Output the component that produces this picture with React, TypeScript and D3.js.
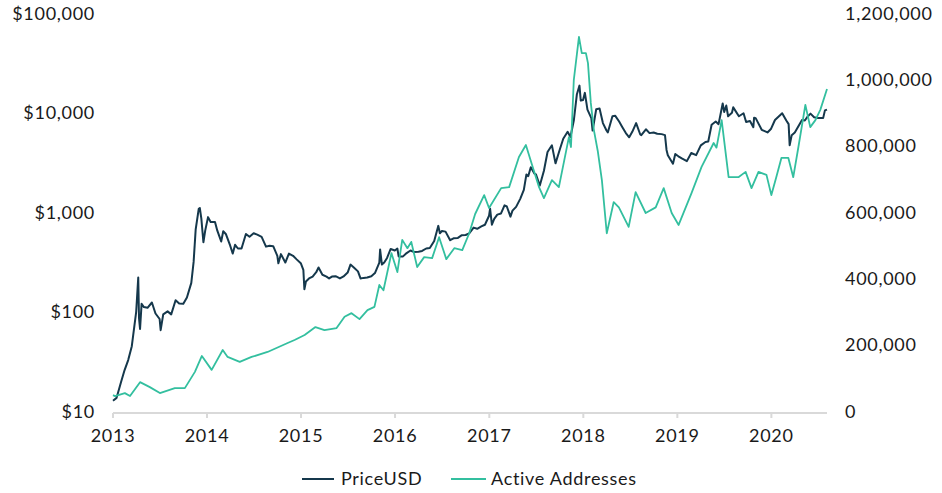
import { scaleLinear, scaleLog, scaleTime, line, timeParse } from 'd3';

const yearTicks = [2013, 2014, 2015, 2016, 2017, 2018, 2019, 2020];
const priceTicks = [10, 100, 1000, 10000, 100000];
const activeTicks = [0, 200000, 400000, 600000, 800000, 1000000, 1200000];

// BTC price, USD
const priceSeries: [string, number][] = [
  ['2013-01-01', 13.3], ['2013-01-15', 14.2], ['2013-02-01', 20.4], ['2013-02-15', 27],
  ['2013-03-01', 34], ['2013-03-15', 47], ['2013-04-01', 104], ['2013-04-09', 230],
  ['2013-04-12', 90], ['2013-04-16', 70], ['2013-04-22', 125], ['2013-05-01', 116],
  ['2013-05-15', 114], ['2013-06-01', 129], ['2013-06-15', 100], ['2013-07-01', 88],
  ['2013-07-05', 68], ['2013-07-15', 98], ['2013-08-01', 105], ['2013-08-15', 98],
  ['2013-09-01', 136], ['2013-09-15', 126], ['2013-10-01', 125], ['2013-10-15', 145],
  ['2013-11-01', 203], ['2013-11-10', 330], ['2013-11-18', 700], ['2013-11-30', 1130],
  ['2013-12-04', 1150], ['2013-12-10', 900], ['2013-12-18', 520], ['2013-12-25', 680],
  ['2014-01-05', 930], ['2014-01-15', 830], ['2014-02-01', 830], ['2014-02-10', 680],
  ['2014-02-25', 530], ['2014-03-05', 670], ['2014-03-15', 630], ['2014-04-01', 480],
  ['2014-04-11', 400], ['2014-04-20', 490], ['2014-05-01', 450], ['2014-05-15', 450],
  ['2014-06-01', 630], ['2014-06-15', 590], ['2014-07-01', 640], ['2014-07-15', 620],
  ['2014-08-01', 590], ['2014-08-18', 470], ['2014-09-01', 480], ['2014-09-15', 475],
  ['2014-10-01', 380], ['2014-10-05', 320], ['2014-10-15', 395], ['2014-11-01', 325],
  ['2014-11-15', 400], ['2014-12-01', 380], ['2014-12-15', 350], ['2014-12-31', 320],
  ['2015-01-10', 275], ['2015-01-14', 175], ['2015-01-20', 210], ['2015-02-01', 225],
  ['2015-02-15', 235], ['2015-03-01', 260], ['2015-03-10', 290], ['2015-03-25', 245],
  ['2015-04-10', 235], ['2015-04-20', 225], ['2015-05-01', 235], ['2015-05-15', 237],
  ['2015-06-01', 225], ['2015-06-15', 236], ['2015-07-01', 258], ['2015-07-12', 310],
  ['2015-07-25', 290], ['2015-08-10', 265], ['2015-08-20', 225], ['2015-09-01', 228],
  ['2015-09-15', 230], ['2015-10-01', 237], ['2015-10-15', 255], ['2015-11-01', 325],
  ['2015-11-04', 440], ['2015-11-11', 310], ['2015-11-20', 325], ['2015-12-01', 362],
  ['2015-12-15', 445], ['2015-12-31', 430], ['2016-01-10', 450], ['2016-01-15', 375],
  ['2016-02-01', 375], ['2016-02-15', 405], ['2016-03-01', 430], ['2016-03-15', 415],
  ['2016-04-01', 417], ['2016-04-15', 425], ['2016-05-01', 450], ['2016-05-15', 455],
  ['2016-06-01', 535], ['2016-06-17', 760], ['2016-06-23', 640], ['2016-07-01', 675],
  ['2016-07-15', 665], ['2016-08-02', 545], ['2016-08-15', 570], ['2016-09-01', 575],
  ['2016-09-15', 610], ['2016-10-01', 615], ['2016-10-15', 640], ['2016-11-01', 730],
  ['2016-11-15', 710], ['2016-12-01', 750], ['2016-12-15', 780], ['2016-12-31', 960],
  ['2017-01-04', 1130], ['2017-01-11', 780], ['2017-01-20', 895], ['2017-02-01', 985],
  ['2017-02-15', 1010], ['2017-03-01', 1220], ['2017-03-10', 1190], ['2017-03-24', 940],
  ['2017-04-01', 1080], ['2017-04-15', 1180], ['2017-05-01', 1420], ['2017-05-15', 1750],
  ['2017-05-25', 2500], ['2017-06-01', 2400], ['2017-06-11', 2950], ['2017-06-25', 2550],
  ['2017-07-01', 2500], ['2017-07-16', 1930], ['2017-08-01', 2720], ['2017-08-15', 4200],
  ['2017-09-01', 4900], ['2017-09-15', 3230], ['2017-10-01', 4400], ['2017-10-15', 5700],
  ['2017-11-01', 6700], ['2017-11-12', 5950], ['2017-11-25', 8700], ['2017-12-07', 16000],
  ['2017-12-17', 19500], ['2017-12-22', 13800], ['2017-12-31', 14000], ['2018-01-07', 16500],
  ['2018-01-17', 11200], ['2018-02-01', 9200], ['2018-02-06', 6900], ['2018-02-20', 11300],
  ['2018-03-05', 11500], ['2018-03-18', 8200], ['2018-04-01', 6900], ['2018-04-06', 6600],
  ['2018-04-24', 9600], ['2018-05-05', 9700], ['2018-05-20', 8500], ['2018-06-01', 7500],
  ['2018-06-15', 6500], ['2018-06-28', 5900], ['2018-07-10', 6700], ['2018-07-25', 8200],
  ['2018-08-10', 6300], ['2018-08-14', 6200], ['2018-09-01', 7100], ['2018-09-15', 6500],
  ['2018-10-01', 6600], ['2018-10-15', 6400], ['2018-11-01', 6350], ['2018-11-14', 6200],
  ['2018-11-20', 4400], ['2018-11-25', 3900], ['2018-12-15', 3200], ['2018-12-24', 4000],
  ['2019-01-05', 3800], ['2019-01-20', 3600], ['2019-02-07', 3400], ['2019-02-24', 4100],
  ['2019-03-15', 3900], ['2019-04-02', 4900], ['2019-04-20', 5300], ['2019-05-01', 5350],
  ['2019-05-14', 7900], ['2019-05-30', 8500], ['2019-06-10', 8000], ['2019-06-26', 12900],
  ['2019-07-02', 10600], ['2019-07-10', 12300], ['2019-07-17', 9600], ['2019-08-01', 10400],
  ['2019-08-06', 11800], ['2019-08-28', 9600], ['2019-09-15', 10300], ['2019-09-25', 8400],
  ['2019-10-10', 8600], ['2019-10-23', 7450], ['2019-10-26', 9300], ['2019-11-01', 9200],
  ['2019-11-25', 7000], ['2019-12-17', 6600], ['2019-12-31', 7200], ['2020-01-15', 8800],
  ['2020-02-12', 10300], ['2020-02-28', 8700], ['2020-03-08', 8000], ['2020-03-12', 4900],
  ['2020-03-20', 6200], ['2020-04-01', 6600], ['2020-04-29', 8800], ['2020-05-10', 8700],
  ['2020-05-20', 9500], ['2020-06-01', 10200], ['2020-06-15', 9400], ['2020-07-01', 9200],
  ['2020-07-20', 9200], ['2020-07-27', 11000], ['2020-08-04', 11200],
];

// active addresses (smoothed)
const activeSeries: [string, number][] = [
  ['2013-01-01', 54000], ['2013-01-09', 51000], ['2013-02-16', 60000], ['2013-03-08', 51000],
  ['2013-04-16', 93000], ['2013-05-24', 78000], ['2013-07-02', 60000], ['2013-08-29', 75000],
  ['2013-10-07', 75000], ['2013-11-15', 124000], ['2013-12-12', 172000], ['2014-01-19', 130000],
  ['2014-03-03', 190000], ['2014-03-22', 169000], ['2014-05-08', 154000], ['2014-06-23', 169000],
  ['2014-08-24', 184000], ['2014-11-10', 211000], ['2014-12-07', 220000], ['2015-01-15', 235000],
  ['2015-02-26', 259000], ['2015-04-02', 250000], ['2015-05-19', 256000], ['2015-06-19', 290000],
  ['2015-07-16', 301000], ['2015-08-16', 283000], ['2015-09-16', 310000], ['2015-10-13', 320000],
  ['2015-11-01', 386000], ['2015-11-17', 370000], ['2015-12-18', 482000], ['2016-01-10', 425000],
  ['2016-01-29', 522000], ['2016-02-18', 497000], ['2016-03-04', 516000], ['2016-03-27', 440000],
  ['2016-04-23', 470000], ['2016-05-24', 467000], ['2016-06-20', 530000], ['2016-07-18', 464000],
  ['2016-08-18', 497000], ['2016-09-18', 491000], ['2016-10-15', 542000], ['2016-11-07', 600000],
  ['2016-12-12', 657000], ['2016-12-31', 618000], ['2017-02-16', 678000], ['2017-03-19', 681000],
  ['2017-04-26', 772000], ['2017-05-23', 808000], ['2017-06-16', 748000], ['2017-07-13', 681000],
  ['2017-08-01', 648000], ['2017-09-01', 702000], ['2017-09-28', 681000], ['2017-11-06', 832000],
  ['2017-11-14', 802000], ['2017-11-25', 1004000], ['2017-12-15', 1134000], ['2017-12-26', 1085000],
  ['2018-01-11', 1085000], ['2018-01-19', 1055000], ['2018-01-30', 935000], ['2018-02-11', 853000],
  ['2018-02-26', 790000], ['2018-03-14', 702000], ['2018-04-02', 542000], ['2018-04-29', 636000],
  ['2018-05-19', 620000], ['2018-06-26', 561000], ['2018-07-23', 666000], ['2018-08-31', 603000],
  ['2018-10-09', 620000], ['2018-11-09', 678000], ['2018-12-10', 603000], ['2019-01-06', 567000],
  ['2019-02-25', 663000], ['2019-04-05', 742000], ['2019-05-22', 814000], ['2019-06-02', 800000],
  ['2019-06-22', 883000], ['2019-07-19', 711000], ['2019-08-26', 711000], ['2019-09-23', 727000],
  ['2019-10-16', 678000], ['2019-11-12', 727000], ['2019-12-13', 718000], ['2020-01-01', 657000],
  ['2020-01-20', 711000], ['2020-02-09', 769000], ['2020-03-07', 769000], ['2020-03-26', 711000],
  ['2020-04-15', 802000], ['2020-05-12', 929000], ['2020-05-31', 862000], ['2020-06-20', 883000],
  ['2020-07-09', 914000], ['2020-08-04', 977000],
];

const W = 942;
const H = 493;
const left = 113;
const right = 827;
const top = 15;
const bottom = 413;

const NAVY = '#15384c';
const TEAL = '#33bf9f';
const FONT = 'Lato, "Open Sans", sans-serif';
const INK = '#1a1a1a';

const parse = timeParse('%Y-%m-%d');

const App = () => {
  const x = scaleTime()
    .domain([parse('2013-01-01')!, parse('2020-08-04')!])
    .range([left, right]);
  const yPrice = scaleLog().domain([10, 100000]).range([bottom, top]);
  const yActive = scaleLinear().domain([0, 1200000]).range([bottom, top]);

  const priceLine = line<[string, number]>()
    .x(d => x(parse(d[0])!))
    .y(d => yPrice(d[1]));
  const activeLine = line<[string, number]>()
    .x(d => x(parse(d[0])!))
    .y(d => yActive(d[1]));

  const fmtPrice = (v: number) => '$' + v.toLocaleString('en-US');
  const txt = { fontSize: 18, fill: INK, letterSpacing: 0.7 };

  return (
    <svg width={W} height={H} style={{ position: 'absolute', left: 0, top: 0 }} fontFamily={FONT}>
      {/* x axis */}
      <line x1={left} x2={right} y1={bottom} y2={bottom} stroke="#d9d9d9" strokeWidth={2} />
      {yearTicks.map(yr => {
        const tx = x(parse(`${yr}-01-01`)!);
        return (
          <g key={yr}>
            <line x1={tx} x2={tx} y1={bottom} y2={bottom + 5} stroke="#d9d9d9" strokeWidth={2} />
            <text x={tx} y={437} textAnchor="middle" dominantBaseline="middle" {...txt}>
              {yr}
            </text>
          </g>
        );
      })}
      {/* left axis */}
      {priceTicks.map(t => (
        <text key={t} x={95} y={yPrice(t)} textAnchor="end" dominantBaseline="middle" {...txt}>
          {fmtPrice(t)}
        </text>
      ))}
      {/* right axis */}
      {activeTicks.map(t => (
        <text key={t} x={845} y={yActive(t)} textAnchor="start" dominantBaseline="middle" {...txt}>
          {t.toLocaleString('en-US')}
        </text>
      ))}
      <path d={priceLine(priceSeries) ?? ''} fill="none" stroke={NAVY} strokeWidth={2} strokeLinejoin="round" />
      <path d={activeLine(activeSeries) ?? ''} fill="none" stroke={TEAL} strokeWidth={1.8} strokeLinejoin="round" />
      {/* legend */}
      <line x1={302} x2={334} y1={479} y2={479} stroke={NAVY} strokeWidth={2} />
      <text x={341} y={480} dominantBaseline="middle" {...txt}>PriceUSD</text>
      <line x1={451} x2={486} y1={479} y2={479} stroke={TEAL} strokeWidth={2} />
      <text x={491} y={480} dominantBaseline="middle" {...txt}>Active Addresses</text>
    </svg>
  );
};

export default App;
